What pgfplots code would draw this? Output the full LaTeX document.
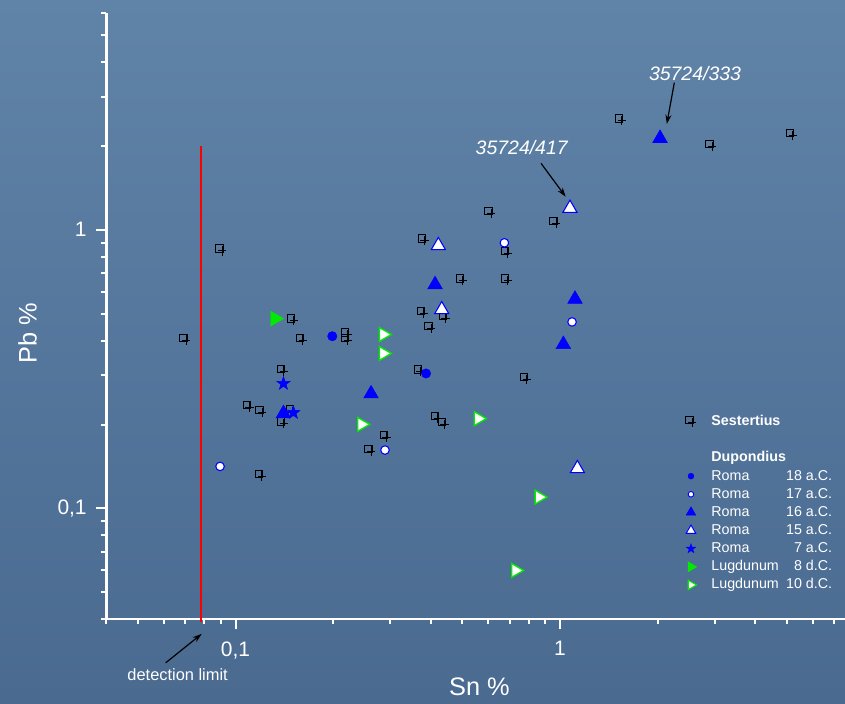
\documentclass[border=0pt]{standalone}
\usepackage{fontspec}
\setmainfont{Liberation Sans}
\usepackage{pgfplots}
\pgfplotsset{compat=1.18}
\usetikzlibrary{arrows.meta}

\definecolor{bgtop}{RGB}{96,131,168}
\definecolor{bgbot}{RGB}{74,106,144}
\definecolor{mblue}{RGB}{0,0,255}
\definecolor{mgreen}{RGB}{0,235,0}

% Sestertius glyph: square with an offset plus
\pgfdeclareplotmark{sest}{%
  \pgfpathrectangle{\pgfpoint{-3.98pt}{-1.5pt}}{\pgfpoint{5.48pt}{5.48pt}}%
  \pgfpathmoveto{\pgfpoint{-2.29pt}{-0.49pt}}\pgfpathlineto{\pgfpoint{4.01pt}{-0.49pt}}%
  \pgfpathmoveto{\pgfpoint{0.86pt}{3.01pt}}\pgfpathlineto{\pgfpoint{0.86pt}{-3.99pt}}%
  \pgfusepathqstroke}
% filled five-pointed star
\pgfdeclareplotmark{fstar}{%
  \pgfpathmoveto{\pgfqpointpolar{90}{\pgfplotmarksize}}%
  \pgfpathlineto{\pgfqpointpolar{126}{0.4\pgfplotmarksize}}%
  \pgfpathlineto{\pgfqpointpolar{162}{\pgfplotmarksize}}%
  \pgfpathlineto{\pgfqpointpolar{198}{0.4\pgfplotmarksize}}%
  \pgfpathlineto{\pgfqpointpolar{234}{\pgfplotmarksize}}%
  \pgfpathlineto{\pgfqpointpolar{270}{0.4\pgfplotmarksize}}%
  \pgfpathlineto{\pgfqpointpolar{306}{\pgfplotmarksize}}%
  \pgfpathlineto{\pgfqpointpolar{342}{0.4\pgfplotmarksize}}%
  \pgfpathlineto{\pgfqpointpolar{18}{\pgfplotmarksize}}%
  \pgfpathlineto{\pgfqpointpolar{54}{0.4\pgfplotmarksize}}%
  \pgfpathclose\pgfusepathqfillstroke}

\begin{document}
\begin{tikzpicture}
\shade[top color=bgtop, bottom color=bgbot] (-79.8pt,-62.8pt) rectangle (553.95pt,464.45pt);
\useasboundingbox (-79.8pt,-62.8pt) rectangle (553.95pt,464.45pt);
\begin{axis}[
  at={(0,0)}, anchor=south west,
  scale only axis, width=553.95pt, height=454.7pt,
  xmode=log, ymode=log,
  xmin=0.04, xmax=7.554, ymin=0.04, ymax=6,
  axis lines=left,
  axis line style={-, white, line width=1.7pt},
  tick align=outside,
  major tick length=7.5pt, minor tick length=3.75pt,
  every tick/.style={white, line width=1.5pt},
  xtick={0.1,1}, xticklabels={{0,1},1},
  minor xtick={0.04,0.05,0.06,0.07,0.08,0.09,0.2,0.3,0.4,0.5,0.6,0.7,0.8,0.9,2,3,4,5,6,7},
  ytick={0.1,1}, yticklabels={{0,1},1},
  minor ytick={0.04,0.05,0.06,0.07,0.08,0.09,0.2,0.3,0.4,0.5,0.6,0.7,0.8,0.9,2,3,4,5,6},
  /pgf/number format/assume math mode=true,
  ticklabel style={font=\fontsize{15.7}{18}\selectfont, text=white},
  xticklabel style={yshift=-5.6pt},
  yticklabel style={xshift=-3.8pt},
  xlabel={Sn \%}, ylabel={Pb \%},
  label style={font=\fontsize{19}{22}\selectfont, text=white},
  xlabel style={at={(axis description cs:0.505,-0.1117)}, anchor=center},
  ylabel style={at={(axis description cs:-0.1068,0.4722)}, anchor=center},
  clip=false,
  legend style={draw=none, fill=none, text=white, inner sep=0pt,
    font=\fontsize{10.7}{12}\selectfont,
    at={(rel axis cs:0.7757,0.3412)}, anchor=north west,
    column sep=9.35pt,
    nodes={text height=8pt, text depth=2.2pt, inner sep=1.7pt}},
  legend cell align=left,
]
% detection limit line
\addplot[red, line width=1.5pt, forget plot] coordinates {(0.0783,0.039) (0.0783,2.0)};

% Sestertius
\addplot[only marks, mark=sest, mark options={black, line width=0.7pt}, forget plot] coordinates {
(0.0902,0.845) (0.0699,0.404) (0.150,0.474) (0.160,0.404) (0.220,0.422) (0.220,0.404)
(0.1397,0.313) (0.1095,0.2325) (0.1199,0.2226) (0.149,0.224) (0.1397,0.2025) (0.2897,0.1814)
(0.2598,0.1616) (0.1196,0.1314) (0.6085,1.151) (0.965,1.063) (0.379,0.918) (0.685,0.829)
(0.498,0.660) (0.685,0.660) (0.3776,0.505) (0.440,0.484) (0.3975,0.4445) (0.3685,0.3113)
(0.784,0.2924) (0.417,0.212) (0.437,0.2015) (1.538,2.478) (2.92,2.0) (5.176,2.19)};

% Roma 18 a.C.
\addplot[only marks, mark=*, mark size=3.5pt, mark options={draw=mblue, fill=mblue}, forget plot] coordinates {
(0.1987,0.415) (0.3865,0.305)};
% Roma 17 a.C.
\addplot[only marks, mark=*, mark size=3.2pt, mark options={draw=mblue, fill=white, line width=0.8pt}, forget plot] coordinates {
(0.0896,0.1415) (0.2888,0.162) (0.6737,0.898) (1.089,0.467)};
% Roma 16 a.C.
\addplot[only marks, mark=triangle*, mark size=6.3pt, mark options={draw=mblue, fill=mblue}, forget plot] coordinates {
(0.2616,0.258) (0.1405,0.219) (0.412,0.636) (1.112,0.564) (1.024,0.388) (2.033,2.13)};
% Roma 15 a.C.
\addplot[only marks, mark=triangle*, mark size=6.1pt, mark options={draw=mblue, fill=white, line width=0.8pt}, forget plot] coordinates {
(1.073,1.195) (0.4217,0.878) (0.432,0.517) (1.131,0.139)};
% Roma 7 a.C.
\addplot[only marks, mark=fstar, mark size=5.2pt, mark options={draw=mblue, fill=mblue}, forget plot] coordinates {
(0.1405,0.2806) (0.1508,0.2206)};
% Lugdunum 8 d.C.
\addplot[only marks, mark=triangle*, mark size=6.3pt, mark options={rotate=-90, draw=mgreen, fill=mgreen}, forget plot] coordinates {
(0.1324,0.480)};
% Lugdunum 10 d.C.
\addplot[only marks, mark=triangle*, mark size=6pt, mark options={rotate=-90, draw=mgreen, fill=white, line width=1pt}, forget plot] coordinates {
(0.2855,0.421) (0.2855,0.360) (0.2449,0.2003) (0.560,0.210) (0.862,0.1098) (0.730,0.0599)};

% legend
\addlegendimage{only marks, mark=sest, mark options={black, line width=0.7pt}}
\addlegendentry{\textbf{Sestertius}}
\addlegendimage{empty legend}
\addlegendentry{}
\addlegendimage{empty legend}
\addlegendentry{\textbf{Dupondius}}
\addlegendimage{only marks, mark=*, mark size=2.2pt, mark options={draw=mblue, fill=mblue}}
\addlegendentry{\makebox[90.5pt][l]{Roma\hfill 18 a.C.}}
\addlegendimage{only marks, mark=*, mark size=2.1pt, mark options={draw=mblue, fill=white, line width=0.7pt}}
\addlegendentry{\makebox[90.5pt][l]{Roma\hfill 17 a.C.}}
\addlegendimage{only marks, mark=triangle*, mark size=4.2pt, mark options={draw=mblue, fill=mblue}}
\addlegendentry{\makebox[90.5pt][l]{Roma\hfill 16 a.C.}}
\addlegendimage{only marks, mark=triangle*, mark size=4.1pt, mark options={draw=mblue, fill=white, line width=0.7pt}}
\addlegendentry{\makebox[90.5pt][l]{Roma\hfill 15 a.C.}}
\addlegendimage{only marks, mark=fstar, mark size=3.6pt, mark options={draw=mblue, fill=mblue}}
\addlegendentry{\makebox[90.5pt][l]{Roma\hfill 7 a.C.}}
\addlegendimage{only marks, mark=triangle*, mark size=4.3pt, mark options={rotate=-90, draw=mgreen, fill=mgreen}}
\addlegendentry{\makebox[90.5pt][l]{Lugdunum\hfill 8 d.C.}}
\addlegendimage{only marks, mark=triangle*, mark size=4.1pt, mark options={rotate=-90, draw=mgreen, fill=white, line width=0.8pt}}
\addlegendentry{\makebox[90.5pt][l]{Lugdunum\hfill 10 d.C.}}

% annotations
\node[font=\itshape\fontsize{14.6}{17}\selectfont, text=white] at (axis cs:2.606,3.648) {35724/333};
\draw[-{Stealth[length=7pt,width=4.5pt]}, line width=0.9pt, black] (axis cs:2.25,3.375) -- (axis cs:2.133,2.398);
\node[font=\itshape\fontsize{14.6}{17}\selectfont, text=white] at (axis cs:0.762,1.977) {35724/417};
\draw[-{Stealth[length=7pt,width=4.5pt]}, line width=0.9pt, black] (axis cs:0.874,1.732) -- (axis cs:1.041,1.314);
\draw[-{Stealth[length=7pt,width=4.5pt]}, line width=0.9pt, black] (axis cs:0.0609,0.0279) -- (axis cs:0.0787,0.03546);
\node[font=\fontsize{12.3}{14}\selectfont, text=white] at (axis cs:0.0663,0.02526) {detection limit};
\end{axis}
\end{tikzpicture}
\end{document}
